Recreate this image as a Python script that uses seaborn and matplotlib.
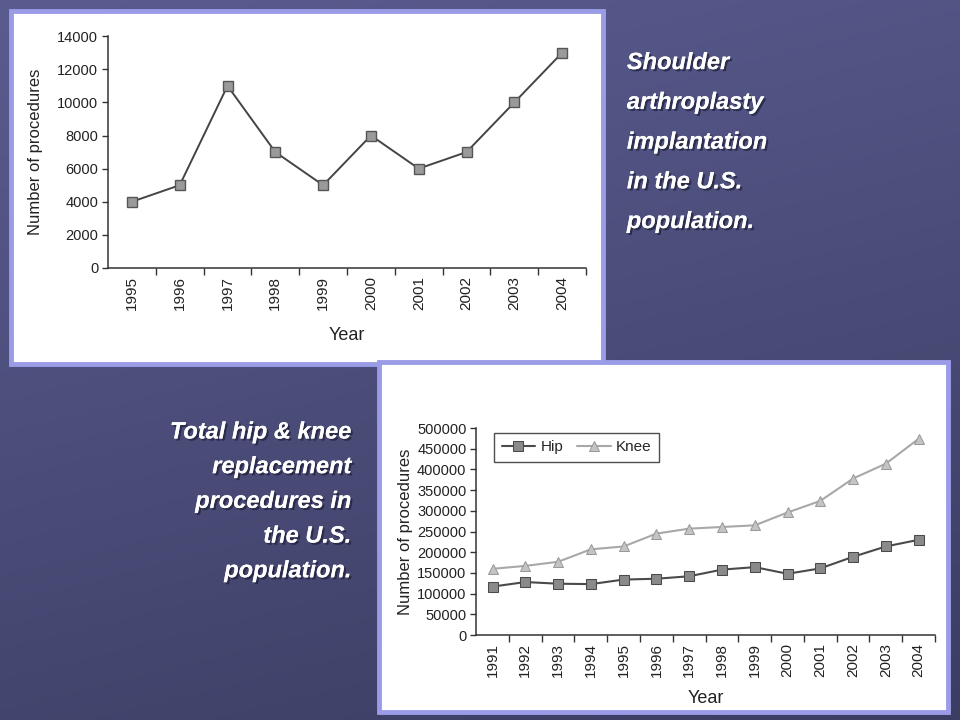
import numpy as np
import pandas as pd
import matplotlib
matplotlib.use("Agg")
import matplotlib.pyplot as plt
import matplotlib.patheffects as pe
from matplotlib.patches import Rectangle
from matplotlib.ticker import FixedLocator, NullFormatter
import seaborn as sns

# Shoulder arthroplasty data
shoulder_years = [1995, 1996, 1997, 1998, 1999, 2000, 2001, 2002, 2003, 2004]
shoulder_counts = [4000, 5000, 11000, 7000, 5000, 8000, 6000, 7000, 10000, 13000]

# Hip & knee replacement data
hk_years = list(range(1991, 2005))
hip_counts = [117000, 128000, 124000, 123000, 134000, 136000, 142000,
              158000, 164000, 148000, 161000, 189000, 214000, 230000]
knee_counts = [160000, 167000, 177000, 207000, 214000, 245000, 257000,
               261000, 265000, 296000, 324000, 378000, 414000, 474000]

shoulder_text = "Shoulder\narthroplasty\nimplantation\nin the U.S.\npopulation."
hipknee_text = "Total hip & knee\nreplacement\nprocedures in\nthe U.S.\npopulation."

sns.set_theme(style="white")
plt.rcParams['font.family'] = ['Liberation Sans', 'DejaVu Sans']

fig = plt.figure(figsize=(9.6, 7.2), dpi=100)

# slide background gradient
bg = fig.add_axes([0, 0, 1, 1], zorder=-10)
yy, xx = np.mgrid[0:1:200j, 0:1:200j]
top = np.array([0x5a, 0x5c, 0x90]) / 255
bot = np.array([0x3c, 0x3d, 0x62]) / 255
t = np.clip(0.75 * yy + 0.25 * xx, 0, 1)[..., None]
img = top * (1 - t) + bot * t
bg.imshow(img, aspect='auto', extent=[0, 1, 0, 1], origin='upper')
bg.set_axis_off()

# white panels with lavender border
fig.patches.append(Rectangle((0.0115, 0.494), 0.617, 0.491, transform=fig.transFigure,
                             facecolor='white', edgecolor='#9b9ce8', linewidth=3.5, zorder=-5))
fig.patches.append(Rectangle((0.395, 0.011), 0.592, 0.486, transform=fig.transFigure,
                             facecolor='white', edgecolor='#9b9ce8', linewidth=3.5, zorder=-4))


def style_axes(ax, years, ymax, ystep, xsize, ysize):
    ax.set_facecolor('none')
    for s in ['top', 'right']:
        ax.spines[s].set_visible(False)
    for s in ['left', 'bottom']:
        ax.spines[s].set_color('#333333')
        ax.spines[s].set_linewidth(1.1)
    ax.set_xlim(years[0] - 0.5, years[-1] + 0.5)
    ax.set_ylim(0, ymax)
    ax.set_yticks(np.arange(0, ymax + 1, ystep))
    ax.set_xticks(years)
    ax.set_xticklabels([str(y) for y in years], rotation=90)
    ax.xaxis.set_minor_locator(FixedLocator([y + 0.5 for y in years]))
    ax.xaxis.set_minor_formatter(NullFormatter())
    ax.tick_params(axis='x', which='major', length=0, pad=6, labelsize=xsize, colors='#222222')
    ax.tick_params(axis='x', which='minor', length=5, width=1, color='#333333', bottom=True)
    ax.tick_params(axis='y', length=4, width=1, color='#333333', left=True,
                   labelsize=ysize, labelcolor='#222222', pad=3)
    ax.grid(False)


# chart 1: shoulder
ax1 = fig.add_axes([0.1125, 0.6278, 0.498, 0.322])
df1 = pd.DataFrame({'Year': shoulder_years, 'Count': shoulder_counts})
sns.lineplot(data=df1, x='Year', y='Count', ax=ax1, color='#444444', linewidth=1.4,
             marker='s', markersize=6.5, markerfacecolor='#9a9a9a',
             markeredgecolor='#555555', markeredgewidth=1)
style_axes(ax1, shoulder_years, 14000, 2000, 11, 10.5)
ax1.set_xlabel('Year', fontsize=13, color='#222222', labelpad=12)
ax1.set_ylabel('Number of procedures', fontsize=12, color='#222222', labelpad=10)

# chart 2: hip & knee
ax2 = fig.add_axes([0.496, 0.118, 0.478, 0.2875])
df2 = pd.DataFrame({'Year': hk_years * 2,
                    'Count': hip_counts + knee_counts,
                    'Type': ['Hip'] * len(hk_years) + ['Knee'] * len(hk_years)})
sns.lineplot(data=df2, x='Year', y='Count', hue='Type', style='Type',
             palette={'Hip': '#4a4a4a', 'Knee': '#a8a8a8'},
             markers={'Hip': 's', 'Knee': '^'}, dashes=False,
             linewidth=1.5, markersize=6.5, ax=ax2)
for line, fc, ec in zip(ax2.lines[:2], ['#8a8a8a', '#c4c4c4'], ['#4a4a4a', '#9a9a9a']):
    line.set_markerfacecolor(fc)
    line.set_markeredgecolor(ec)
style_axes(ax2, hk_years, 500000, 50000, 11, 10.5)
ax2.set_xlabel('Year', fontsize=13, color='#222222', labelpad=9)
ax2.set_ylabel('Number of procedures', fontsize=12, color='#222222', labelpad=3)
handles, labels = ax2.get_legend_handles_labels()
for h, fc, ec in zip(handles, ['#8a8a8a', '#c4c4c4'], ['#4a4a4a', '#9a9a9a']):
    h.set_markerfacecolor(fc)
    h.set_markeredgecolor(ec)
leg = ax2.legend(handles, labels, loc='upper left', bbox_to_anchor=(0.022, 1.015), ncol=2,
                 frameon=True, fancybox=False, edgecolor='#222222', fontsize=11,
                 handlelength=2.2, columnspacing=0.9, borderpad=0.5, handletextpad=0.35)
leg.get_frame().set_linewidth(1.0)

# slide captions
shadow = [pe.withSimplePatchShadow(offset=(1.5, -1.5), shadow_rgbFace='#1e1f38', alpha=0.7), pe.Normal()]
fig.text(0.653, 0.929, shoulder_text, ha='left', va='top', color='white',
         fontsize=17, fontweight='bold', fontstyle='italic', linespacing=1.93,
         path_effects=shadow)
fig.text(0.366, 0.416, hipknee_text, ha='right', va='top', color='white',
         fontsize=17, fontweight='bold', fontstyle='italic', linespacing=1.65,
         path_effects=shadow)

fig.savefig('out.png', dpi=100)
